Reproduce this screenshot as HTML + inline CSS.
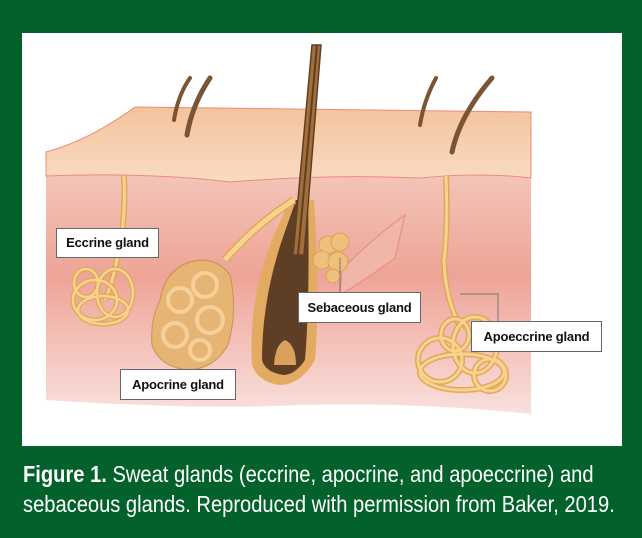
<!DOCTYPE html>
<html><head><meta charset="utf-8"><style>
html,body{margin:0;padding:0;background:#03622b;width:642px;height:538px;overflow:hidden}
.cap{position:absolute;left:23px;top:459px;color:#fff;font-family:"Liberation Sans",sans-serif;font-size:23px;line-height:30px;white-space:nowrap;transform:scaleX(0.875);transform-origin:0 0}
.lab{position:absolute;background:#fff;border:1px solid #666;font-family:"Liberation Sans",sans-serif;font-weight:bold;font-size:13px;color:#111;box-sizing:border-box;text-align:center;letter-spacing:-0.2px}
</style></head><body>
<svg width="642" height="538" style="position:absolute;left:0;top:0">
<defs>
<linearGradient id="ep" x1="0" y1="0" x2="0" y2="1"><stop offset="0" stop-color="#f4c39b"/><stop offset="1" stop-color="#f9dcc3"/></linearGradient>
<linearGradient id="de" x1="0" y1="0" x2="0" y2="1"><stop offset="0" stop-color="#f3c9bc"/><stop offset="0.45" stop-color="#eea497"/><stop offset="1" stop-color="#f9e0dd"/></linearGradient>
</defs>
<rect x="22" y="33" width="600" height="413" fill="#fff"/>
<path d="M46 163 L46 400 Q200 410 300 405 Q420 402 531 414 L531 175 Z" fill="url(#de)"/>
<path d="M46 152 Q90 140 135 107 Q330 110 531 112 L531 178 Q480 172 420 178 Q330 174 230 182 Q150 172 46 176 Z" fill="url(#ep)" stroke="#ee8a78" stroke-width="1"/>
<path d="M174 120 Q178 95 190 78" stroke="#7a5535" stroke-width="4" fill="none" stroke-linecap="round"/>
<path d="M187 135 Q192 105 210 78" stroke="#7a5535" stroke-width="5" fill="none" stroke-linecap="round"/>
<path d="M420 125 Q424 100 436 78" stroke="#7a5535" stroke-width="4" fill="none" stroke-linecap="round"/>
<path d="M452 152 Q460 115 492 78" stroke="#7a5535" stroke-width="5" fill="none" stroke-linecap="round"/>
<path d="M252 365 Q248 300 272 240 L290 200 L314 200 Q320 300 315 360 Q300 385 280 385 Q258 382 252 365 Z" fill="#e3aa62"/>
<path d="M262 360 Q262 300 282 240 L296 200 L308 200 Q310 300 305 360 Q295 375 283 375 Q265 372 262 360 Z" fill="#5e3f26"/>
<path d="M274 365 Q275 345 285 340 Q296 345 296 365 Z" fill="#d9a15c"/>
<path d="M293 255 L304 255 L321 45 L312 45 Z" fill="#a36e38" stroke="#5e3f26" stroke-width="1.5"/>
<line x1="298" y1="255" x2="317" y2="45" stroke="#5e3f26" stroke-width="2"/>
<path d="M124 176 Q126 220 118 255 Q112 285 105 300" stroke="#e0a858" stroke-width="6" fill="none"/>
<path d="M124 176 Q126 220 118 255 Q112 285 105 300" stroke="#f7d38f" stroke-width="3" fill="none"/>
<path d="M294 200 Q255 225 225 260" stroke="#e0a858" stroke-width="8" fill="none"/>
<path d="M294 200 Q255 225 225 260" stroke="#f7d38f" stroke-width="5" fill="none"/>
<path d="M446 176 Q448 230 444 260 Q445 300 462 330" stroke="#e0a858" stroke-width="6" fill="none"/>
<path d="M446 176 Q448 230 444 260 Q445 300 462 330" stroke="#f7d38f" stroke-width="3" fill="none"/>
<path d="M342 270 Q370 240 405 215 L395 258 Q365 280 340 295 Z" fill="#f0b7a8" stroke="#e8897a" stroke-width="1"/>
<g fill="none" stroke="#e0a858" stroke-width="5">
<ellipse cx="95" cy="300" rx="22" ry="20"/><ellipse cx="115" cy="293" rx="18" ry="24"/><ellipse cx="103" cy="310" rx="25" ry="14"/><ellipse cx="86" cy="283" rx="12" ry="14"/>
</g>
<g fill="none" stroke="#f7d38f" stroke-width="2.5">
<ellipse cx="95" cy="300" rx="22" ry="20"/><ellipse cx="115" cy="293" rx="18" ry="24"/><ellipse cx="103" cy="310" rx="25" ry="14"/><ellipse cx="86" cy="283" rx="12" ry="14"/>
</g>
<path d="M160 300 Q165 270 190 262 Q215 255 230 275 Q238 310 228 345 Q215 368 190 370 Q160 368 152 345 Q150 320 160 300 Z" fill="#e6b574" stroke="#c9924c"/>
<g fill="none" stroke="#f5d199" stroke-width="4"><circle cx="180" cy="300" r="12"/><circle cx="205" cy="285" r="12"/><circle cx="210" cy="320" r="13"/><circle cx="175" cy="335" r="12"/><circle cx="200" cy="350" r="10"/></g>
<g fill="#eec07c" stroke="#d9a15c"><circle cx="328" cy="245" r="9"/><circle cx="340" cy="242" r="9"/><circle cx="322" cy="260" r="9"/><circle cx="338" cy="262" r="10"/><circle cx="333" cy="276" r="7"/></g>
<line x1="340" y1="258" x2="340" y2="308" stroke="#777" stroke-width="1"/>
<g fill="none" stroke="#e0a858" stroke-width="6">
<ellipse cx="440" cy="360" rx="22" ry="22"/><ellipse cx="475" cy="345" rx="22" ry="28"/><ellipse cx="462" cy="372" rx="42" ry="18"/><ellipse cx="455" cy="335" rx="14" ry="16"/><ellipse cx="490" cy="375" rx="16" ry="16"/>
</g>
<g fill="none" stroke="#f7d38f" stroke-width="3">
<ellipse cx="440" cy="360" rx="22" ry="22"/><ellipse cx="475" cy="345" rx="22" ry="28"/><ellipse cx="462" cy="372" rx="42" ry="18"/><ellipse cx="455" cy="335" rx="14" ry="16"/><ellipse cx="490" cy="375" rx="16" ry="16"/>
</g>
<polyline points="460,294 498,294 498,324" fill="none" stroke="#777" stroke-width="1"/>
</svg>
<div class="lab" style="left:56px;top:228px;width:103px;height:30px;line-height:28px">Eccrine gland</div>
<div class="lab" style="left:120px;top:369px;width:116px;height:31px;line-height:29px">Apocrine gland</div>
<div class="lab" style="left:298px;top:292px;width:123px;height:31px;line-height:29px">Sebaceous gland</div>
<div class="lab" style="left:471px;top:321px;width:131px;height:31px;line-height:29px">Apoeccrine gland</div>
<div class="cap"><b>Figure 1.</b> Sweat glands (eccrine, apocrine, and apoeccrine) and<br>sebaceous glands. Reproduced with permission from Baker, 2019.</div>
</body></html>
